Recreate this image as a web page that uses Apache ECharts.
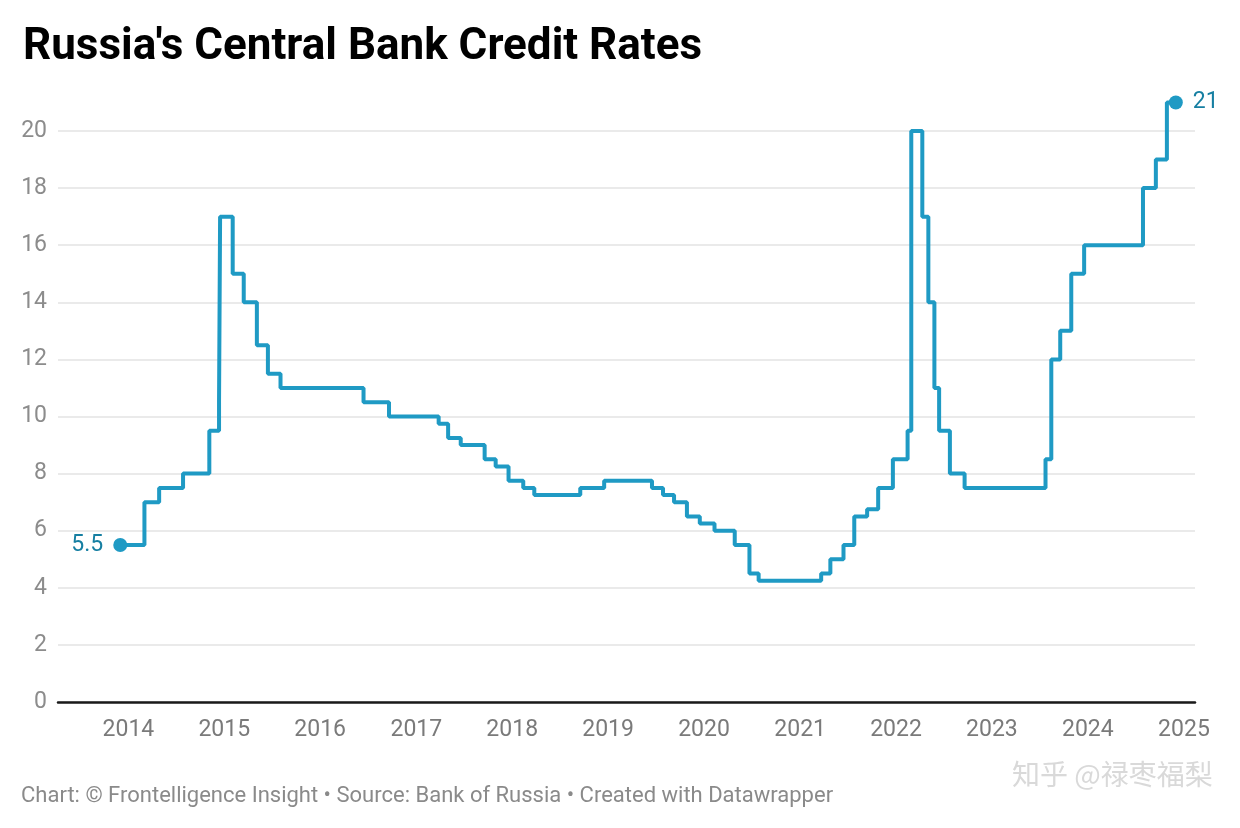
<!DOCTYPE html>
<html>
<head>
<meta charset="utf-8">
<script src="https://cdn.jsdelivr.net/npm/echarts@6/dist/echarts.min.js"></script>
<style>
html,body{margin:0;padding:0;background:#fff;}
#chart{width:1240px;height:828px;}
</style>
</head>
<body>
<div id="chart"></div>
<script>
// Key rate change dates and values (Bank of Russia)
const dates = [
  '2013-12-01','2014-03-03','2014-04-28','2014-07-28','2014-11-05','2014-12-12','2014-12-16',
  '2015-02-02','2015-03-16','2015-05-05','2015-06-16','2015-08-03','2016-06-14','2016-09-19',
  '2017-03-27','2017-05-02','2017-06-19','2017-09-18','2017-10-30','2017-12-18','2018-02-12',
  '2018-03-26','2018-09-17','2018-12-17','2019-06-17','2019-07-29','2019-09-09','2019-10-28',
  '2019-12-16','2020-02-10','2020-04-27','2020-06-22','2020-07-27','2021-03-22','2021-04-26',
  '2021-06-15','2021-07-26','2021-09-13','2021-10-25','2021-12-20','2022-02-14','2022-02-28',
  '2022-04-11','2022-05-04','2022-05-27','2022-06-14','2022-07-25','2022-09-19','2023-07-24',
  '2023-08-15','2023-09-18','2023-10-30','2023-12-18','2024-07-29','2024-09-16','2024-10-28',
  '2024-12-01'
];
const rates = [
  5.5, 7.0, 7.5, 8.0, 9.5, 10.5, 17.0,
  15.0, 14.0, 12.5, 11.5, 11.0, 10.5, 10.0,
  9.75, 9.25, 9.0, 8.5, 8.25, 7.75, 7.5,
  7.25, 7.5, 7.75, 7.5, 7.25, 7.0, 6.5,
  6.25, 6.0, 5.5, 4.5, 4.25, 4.5, 5.0,
  5.5, 6.5, 6.75, 7.5, 8.5, 9.5, 20.0,
  17.0, 14.0, 11.0, 9.5, 8.0, 7.5, 8.5,
  12.0, 13.0, 15.0, 16.0, 18.0, 19.0, 21.0,
  21.0
];
const yearTicks = ['2014','2015','2016','2017','2018','2019','2020','2021','2022','2023','2024','2025'];

const titleText = "Russia's Central Bank Credit Rates";
const footerText = "Chart: © Frontelligence Insight • Source: Bank of Russia • Created with Datawrapper";
const watermarkText = "知乎 @禄枣福梨";

const lineColor = '#1f9ac4';
const labelColor = '#167fa2';

const ts = d => Date.parse(d + 'T00:00:00Z');
const lineData = dates.map((d, i) => [ts(d), rates[i]]);
const endData = [
  {value: lineData[0], label: {position: 'left'}},
  {value: lineData[lineData.length - 1], label: {position: 'right'}}
];

const chart = echarts.init(document.getElementById('chart'), null, {renderer: 'canvas'});
chart.setOption({
  backgroundColor: '#fff',
  animation: false,
  title: {
    text: titleText,
    left: 18, top: 21,
    textStyle: {fontFamily: 'Roboto', fontWeight: 'bold', fontSize: 44, color: '#000'}
  },
  graphic: [
    {type: 'text', left: 21, top: 785,
     style: {text: footerText, font: '22px Roboto', fill: '#8a8a8a'}},
    {type: 'text', left: 1012, top: 760,
     style: {text: watermarkText, font: '28px "Noto Sans CJK SC"', fill: '#d9d9d9',
             shadowColor: 'rgba(0,0,0,0.4)', shadowBlur: 1, shadowOffsetX: 1, shadowOffsetY: 1}}
  ],
  grid: {left: 58, right: 45, top: 131, bottom: 126, containLabel: false},
  xAxis: {
    type: 'value',
    min: ts('2013-04-08'),
    max: ts('2025-02-12'),
    axisLine: {show: true, lineStyle: {color: '#1a1a1a', width: 2.5}},
    axisTick: {show: false},
    splitLine: {show: false},
    axisLabel: {
      customValues: yearTicks.map(y => ts(y + '-01-01')),
      formatter: v => String(new Date(v).getUTCFullYear()),
      color: '#7a7a7a', fontSize: 23, fontFamily: 'Roboto', margin: 17
    }
  },
  yAxis: {
    type: 'value',
    min: 0, max: 20, interval: 2,
    axisLine: {show: false},
    axisTick: {show: false},
    axisLabel: {color: '#8c8c8c', fontSize: 23, fontFamily: 'Roboto', margin: 11},
    splitLine: {show: true, lineStyle: {color: '#e3e3e3', width: 1.5}}
  },
  series: [
    {
      type: 'line',
      step: 'end',
      data: lineData,
      showSymbol: false,
      clip: false,
      lineStyle: {color: lineColor, width: 4},
      z: 3
    },
    {
      type: 'scatter',
      data: endData,
      symbolSize: 14,
      itemStyle: {color: lineColor, opacity: 1},
      label: {show: true, formatter: p => String(p.value[1]), color: labelColor,
              fontSize: 23, fontFamily: 'Roboto', distance: 10},
      clip: false,
      z: 4
    }
  ]
});
</script>
</body>
</html>
